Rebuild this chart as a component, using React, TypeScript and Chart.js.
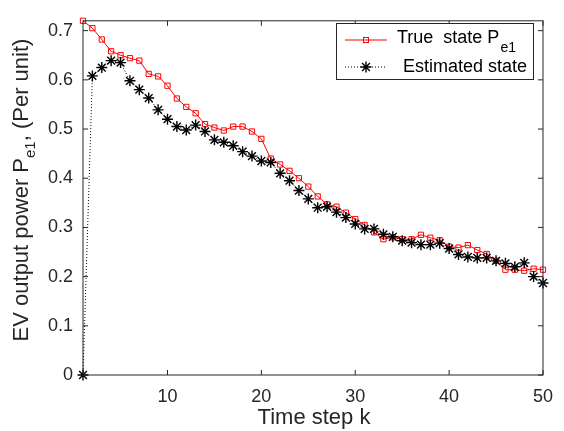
import React, { useEffect, useRef } from "react";
import { Chart, registerables } from "chart.js";

Chart.register(...registerables);

// ---- data ----
const timeSteps = [
  1, 2, 3, 4, 5, 6, 7, 8, 9, 10,
  11, 12, 13, 14, 15, 16, 17, 18, 19, 20,
  21, 22, 23, 24, 25, 26, 27, 28, 29, 30,
  31, 32, 33, 34, 35, 36, 37, 38, 39, 40,
  41, 42, 43, 44, 45, 46, 47, 48, 49, 50,
];

const trueState = [
  0.720, 0.705, 0.682, 0.658, 0.650, 0.644, 0.639, 0.612, 0.607, 0.588,
  0.562, 0.545, 0.532, 0.510, 0.503, 0.497, 0.505, 0.505, 0.495, 0.480,
  0.440, 0.428, 0.415, 0.400, 0.383, 0.363, 0.347, 0.342, 0.330, 0.317,
  0.305, 0.290, 0.276, 0.280, 0.276, 0.276, 0.285, 0.279, 0.274, 0.261,
  0.259, 0.264, 0.254, 0.246, 0.232, 0.214, 0.214, 0.212, 0.216, 0.214,
];

const estimatedState = [
  0.000, 0.608, 0.625, 0.639, 0.635, 0.598, 0.580, 0.563, 0.539, 0.520,
  0.505, 0.498, 0.508, 0.495, 0.478, 0.473, 0.466, 0.454, 0.445, 0.435,
  0.432, 0.410, 0.395, 0.375, 0.358, 0.340, 0.342, 0.331, 0.320, 0.307,
  0.297, 0.297, 0.286, 0.281, 0.273, 0.269, 0.265, 0.265, 0.268, 0.257,
  0.245, 0.240, 0.238, 0.238, 0.232, 0.227, 0.220, 0.228, 0.200, 0.187,
];

const xTicks = [10, 20, 30, 40, 50];
const yTicks = [0, 0.1, 0.2, 0.3, 0.4, 0.5, 0.6, 0.7];
const yTickLabels = ["0", "0.1", "0.2", "0.3", "0.4", "0.5", "0.6", "0.7"];

const X_MIN = 1;
const X_MAX = 50;
const Y_MIN = 0;
const Y_MAX = 0.72;

const legendLabels = { trueMain: "True  state P", trueSub: "e1", est: "Estimated state" };
const xTitle = "Time step k";
const yTitle = { main: "EV output power P", sub: "e1", rest: ", (Per unit)" };

const FONT = '"Liberation Sans", Arial, Helvetica, sans-serif';
const AXIS = "#262626";

function drawStar(ctx: CanvasRenderingContext2D, x: number, y: number, r: number) {
  const d = r * Math.SQRT1_2;
  ctx.beginPath();
  ctx.moveTo(x - r, y);
  ctx.lineTo(x + r, y);
  ctx.moveTo(x, y - r);
  ctx.lineTo(x, y + r);
  ctx.moveTo(x - d, y - d);
  ctx.lineTo(x + d, y + d);
  ctx.moveTo(x - d, y + d);
  ctx.lineTo(x + d, y - d);
  ctx.stroke();
}

const framePlugin = {
  id: "matlabFrame",
  afterDraw(chart: any) {
    const { ctx, chartArea: a, scales } = chart;
    const xs = scales.x;
    const ys = scales.y;
    ctx.save();
    // frame
    ctx.strokeStyle = AXIS;
    ctx.lineWidth = 1;
    ctx.setLineDash([]);
    ctx.strokeRect(a.left, a.top, a.right - a.left, a.bottom - a.top);
    // ticks inward
    const tl = 5;
    ctx.beginPath();
    xTicks.forEach((v) => {
      const px = xs.getPixelForValue(v);
      ctx.moveTo(px, a.bottom);
      ctx.lineTo(px, a.bottom - tl);
      ctx.moveTo(px, a.top);
      ctx.lineTo(px, a.top + tl);
    });
    yTicks.forEach((v) => {
      const py = ys.getPixelForValue(v);
      ctx.moveTo(a.left, py);
      ctx.lineTo(a.left + tl, py);
      ctx.moveTo(a.right, py);
      ctx.lineTo(a.right - tl, py);
    });
    ctx.stroke();

    // x title
    ctx.fillStyle = AXIS;
    ctx.font = `22px ${FONT}`;
    ctx.textAlign = "center";
    ctx.textBaseline = "middle";
    ctx.fillText(xTitle, (a.left + a.right) / 2 + 1, 418);

    // y title (rotated, with subscript)
    ctx.save();
    ctx.translate(22, 190);
    ctx.rotate(-Math.PI / 2);
    ctx.textAlign = "left";
    ctx.textBaseline = "alphabetic";
    const mainFont = `22px ${FONT}`;
    const subFont = `15px ${FONT}`;
    ctx.font = mainFont;
    const w1 = ctx.measureText(yTitle.main).width;
    const w3 = ctx.measureText(yTitle.rest).width;
    ctx.font = subFont;
    const w2 = ctx.measureText(yTitle.sub).width;
    const total = w1 + w2 + w3;
    const x0 = -total / 2;
    const base = 6;
    ctx.font = mainFont;
    ctx.fillText(yTitle.main, x0, base);
    ctx.font = subFont;
    ctx.fillText(yTitle.sub, x0 + w1, base + 7);
    ctx.font = mainFont;
    ctx.fillText(yTitle.rest, x0 + w1 + w2, base);
    ctx.restore();

    // legend
    const lx = 336, ly = 23, lw = 197, lh = 56;
    ctx.fillStyle = "#ffffff";
    ctx.fillRect(lx, ly, lw, lh);
    ctx.strokeStyle = AXIS;
    ctx.lineWidth = 1;
    ctx.strokeRect(lx + 0.5, ly + 0.5, lw, lh);

    // row 1: true state
    const r1 = 40;
    ctx.strokeStyle = "#ff0000";
    ctx.lineWidth = 1;
    ctx.beginPath();
    ctx.moveTo(345, r1);
    ctx.lineTo(387, r1);
    ctx.stroke();
    ctx.strokeRect(363.5, r1 - 2.5, 5, 5);
    ctx.fillStyle = "#000000";
    ctx.font = `18px ${FONT}`;
    ctx.textAlign = "left";
    ctx.textBaseline = "alphabetic";
    ctx.fillText(legendLabels.trueMain, 397, 43);
    const tw = ctx.measureText(legendLabels.trueMain).width;
    ctx.font = `14px ${FONT}`;
    ctx.fillText(legendLabels.trueSub, 397 + tw + 1, 52);

    // row 2: estimated
    const r2 = 67;
    ctx.strokeStyle = "#000000";
    ctx.lineWidth = 1;
    ctx.setLineDash([1, 2]);
    ctx.beginPath();
    ctx.moveTo(345, r2);
    ctx.lineTo(387, r2);
    ctx.stroke();
    ctx.setLineDash([]);
    ctx.lineWidth = 1.4;
    drawStar(ctx, 366, r2, 5.5);
    ctx.font = `18px ${FONT}`;
    ctx.textBaseline = "middle";
    ctx.fillText(legendLabels.est, 403, r2);
    ctx.restore();
  },
};

export default function App() {
  const canvasRef = useRef<HTMLCanvasElement | null>(null);

  useEffect(() => {
    document.body.style.margin = "0";
    const canvas = canvasRef.current;
    if (!canvas) return;

    const trueData = timeSteps.map((k, i) => ({ x: k, y: trueState[i] }));
    const estData = timeSteps.map((k, i) => ({ x: k, y: estimatedState[i] }));

    const chart = new Chart(canvas, {
      type: "line",
      data: {
        datasets: [
          {
            label: "Estimated state",
            data: estData,
            order: 1,
            borderColor: "#000000",
            borderWidth: 1,
            borderDash: [1, 2],
            pointStyle: "star",
            pointRadius: 5.5,
            pointBorderWidth: 1.4,
            pointBorderColor: "#000000",
            pointBackgroundColor: "#000000",
            fill: false,
            tension: 0,
            clip: false as any,
          },
          {
            label: "True state",
            data: trueData,
            order: 2,
            borderColor: "#ff0000",
            borderWidth: 1,
            pointStyle: "rect",
            pointRadius: 3.7,
            pointBorderWidth: 1,
            pointBorderColor: "#ff0000",
            pointBackgroundColor: "rgba(0,0,0,0)",
            fill: false,
            tension: 0,
            clip: false as any,
          },
        ],
      },
      options: {
        responsive: false,
        animation: false,
        devicePixelRatio: 1,
        layout: { padding: { top: 15, right: 12, left: 0, bottom: 0 } },
        plugins: {
          legend: { display: false },
          tooltip: { enabled: false },
          title: { display: false },
        },
        scales: {
          x: {
            type: "linear",
            min: X_MIN,
            max: X_MAX,
            grid: { display: false, drawTicks: false, tickLength: 0 },
            border: { display: false },
            afterBuildTicks: (s: any) => {
              s.ticks = xTicks.map((v) => ({ value: v }));
            },
            afterFit: (s: any) => {
              s.height = 56;
            },
            ticks: {
              color: AXIS,
              font: { family: FONT, size: 18 },
              padding: 11,
              maxRotation: 0,
              autoSkip: false,
              callback: (v: any) => String(v),
            },
          },
          y: {
            type: "linear",
            min: Y_MIN,
            max: Y_MAX,
            grid: { display: false, drawTicks: false, tickLength: 0 },
            border: { display: false },
            afterBuildTicks: (s: any) => {
              s.ticks = yTicks.map((v) => ({ value: v }));
            },
            afterFit: (s: any) => {
              s.width = 83;
            },
            ticks: {
              color: AXIS,
              font: { family: FONT, size: 18 },
              padding: 10,
              autoSkip: false,
              callback: (v: any) => {
                const i = yTicks.findIndex((t) => Math.abs(t - v) < 1e-9);
                return i >= 0 ? yTickLabels[i] : "";
              },
            },
          },
        },
      },
      plugins: [framePlugin],
    });

    return () => {
      chart.destroy();
    };
  }, []);

  return (
    <div style={{ width: 564, height: 431 }}>
      <canvas ref={canvasRef} width={564} height={431} style={{ display: "block" }} />
    </div>
  );
}
